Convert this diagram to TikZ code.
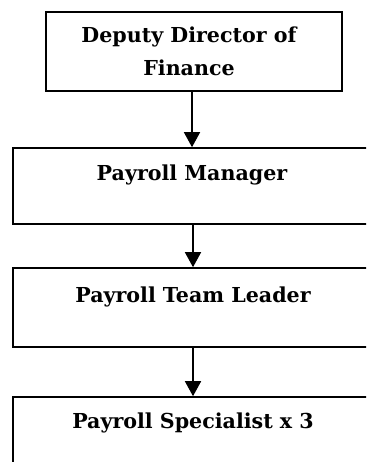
\documentclass[tikz,border=0pt]{standalone}
\usepackage{fontspec}
\setmainfont{DejaVu Serif}
\usetikzlibrary{arrows.meta}
\begin{document}
\begin{tikzpicture}[x=1pt,y=-1pt,
  post/.style={draw=black,line width=1.6pt,rectangle,inner sep=0pt},
  caption/.style={anchor=base,inner sep=0pt,font=\fontsize{20.6}{33}\selectfont\bfseries,align=center},
  link/.style={line width=1.6pt,-{Triangle[width=16pt,length=15pt]}}]
\useasboundingbox (0,0) rectangle (366,462);
\clip (0,0) rectangle (366,462);
% reporting boxes
\node[post,minimum width=296pt,minimum height=79pt] (ddf) at (194,51.5) {};
\node[post,minimum width=360pt,minimum height=76pt] (pm) at (193,186) {};
\node[post,minimum width=360pt,minimum height=79pt] (ptl) at (193,307.5) {};
\node[post,minimum width=360pt,minimum height=79pt] (ps) at (193,436.5) {};
% titles
\node[caption] (tddf) at (189,76) {Deputy Director of\\Finance};
\node[caption] (tpm) at (192,180) {Payroll Manager};
\node[caption] (tptl) at (193,302) {Payroll Team Leader};
\node[caption] (tps) at (193,428) {Payroll Specialist x 3};
% reporting lines
\draw[link] (ddf.south -| 192,0) -- (pm.north -| 192,0);
\draw[link] (pm.south -| 193,0) -- (ptl.north -| 193,0);
\draw[link] (ptl.south -| 193,0) -- (ps.north -| 193,0);
\end{tikzpicture}
\end{document}
